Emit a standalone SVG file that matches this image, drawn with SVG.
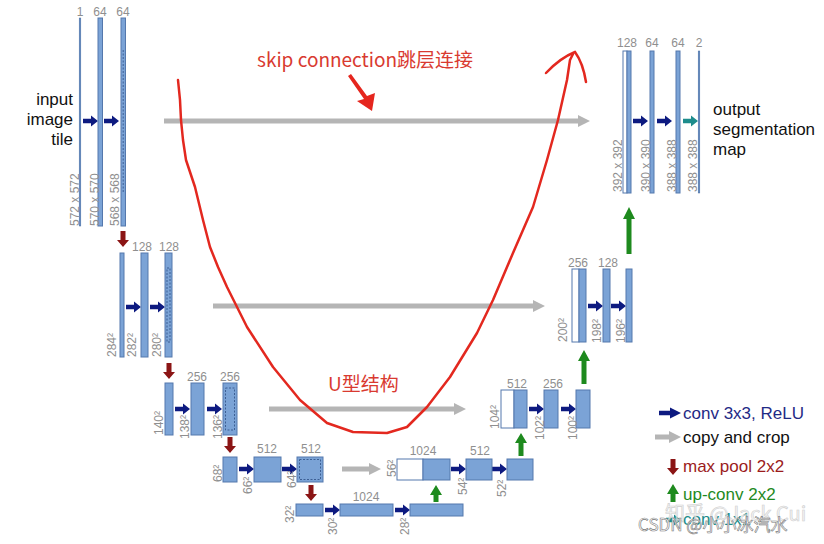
<svg xmlns="http://www.w3.org/2000/svg" xmlns:xlink="http://www.w3.org/1999/xlink" width="824" height="544" viewBox="0 0 824 544">
<style>
.bx{fill:#7ba3d6;stroke:#5478ad;stroke-width:1}
.ln{fill:#5d85bd;stroke:#4a6fa5;stroke-width:0.5}
.wb{fill:#fff;stroke:#5478ad;stroke-width:1}
.dl{fill:none;stroke:#3d5f94;stroke-width:1;stroke-dasharray:2 1.5}
.lb{font-family:"Liberation Sans",Arial,sans-serif;font-size:12px;fill:#8f8f8f;text-anchor:middle}
.vl{font-family:"Liberation Sans",Arial,sans-serif;font-size:12px;fill:#8f8f8f}
.big{font-family:"Liberation Sans",Arial,sans-serif;font-size:17px;fill:#111}
.red{font-family:"Noto Sans CJK SC","Noto Sans",sans-serif;font-size:19px;fill:#d93a30}
.gray{fill:#b5b5b5}
.grn{fill:#1e8a1e}
</style>
<defs>
<path id="ra" d="M0,-2.2 H8 V-5.5 L15,0 L8,5.5 V2.2 H0 Z" fill="#0d1a80"/>
<path id="ta" d="M0,-2.2 H8 V-5.5 L15,0 L8,5.5 V2.2 H0 Z" fill="#1d8c8c"/>
<path id="da" d="M-2.5,0 V9 H-6 L0,16 L6,9 H2.5 V0 Z" fill="#8b1515"/>
</defs>
<rect width="824" height="544" fill="#fff"/>

<g id="connectors">
<path class="gray" d="M164,118.5 H578 V115 L590,121 L578,127 V123.5 H164 Z"/>
<path class="gray" d="M213,303.5 H533 V300 L545,306 L533,312 V308.5 H213 Z"/>
<path class="gray" d="M269,406.5 H454 V403 L466,409 L454,415 V411.5 H269 Z"/>
<path class="gray" d="M342,466.5 H369 V463 L381,469 L369,475 V471.5 H342 Z"/>
<use xlink:href="#ra" x="83" y="121"/><use xlink:href="#ra" x="104" y="121"/>
<use xlink:href="#ra" x="126" y="307"/><use xlink:href="#ra" x="150" y="307"/>
<use xlink:href="#ra" x="175" y="409"/><use xlink:href="#ra" x="207" y="409"/>
<use xlink:href="#ra" x="239" y="469"/><use xlink:href="#ra" x="282" y="469"/>
<use xlink:href="#ra" x="325" y="510"/><use xlink:href="#ra" x="395" y="510"/>
<use xlink:href="#ra" x="451" y="469"/><use xlink:href="#ra" x="492" y="469"/>
<use xlink:href="#ra" x="529" y="409"/><use xlink:href="#ra" x="561" y="409"/>
<use xlink:href="#ra" x="588" y="306"/><use xlink:href="#ra" x="611" y="306"/>
<use xlink:href="#ra" x="633" y="121"/><use xlink:href="#ra" x="657" y="121"/>
<use xlink:href="#ta" x="683" y="121"/>
<use xlink:href="#da" x="123" y="231"/>
<use xlink:href="#da" x="169" y="363"/>
<use xlink:href="#da" x="230" y="437"/>
<use xlink:href="#da" x="311" y="485"/>
<path class="grn" d="M433.5,502 V495 H430 L436,485 L442,495 H438.5 V502 Z"/>
<path class="grn" d="M518.5,456 V443 H515 L521,433 L527,443 H523.5 V456 Z"/>
<path class="grn" d="M581.5,384 V361 H578 L584,350 L590,361 H586.5 V384 Z"/>
<path class="grn" d="M626.5,254 V219 H623 L629,207 L635,219 H631.5 V254 Z"/>
</g>

<g id="input-label">
<text class="big" text-anchor="end" x="73" y="105">input</text>
<text class="big" text-anchor="end" x="73" y="125">image</text>
<text class="big" text-anchor="end" x="73" y="145">tile</text>
</g>

<g id="l1">
<rect class="ln" x="79.2" y="18" width="1.6" height="208"/>
<rect class="bx" x="98" y="18" width="4.5" height="208"/>
<rect class="bx" x="121" y="18" width="4.5" height="208"/>
<line class="dl" x1="123.2" y1="50" x2="123.2" y2="193"/>
<text class="lb" x="80" y="16">1</text><text class="lb" x="100" y="16">64</text><text class="lb" x="123" y="16">64</text>
<text class="vl" transform="translate(79,226) rotate(-90)">572 x 572</text>
<text class="vl" transform="translate(99,226) rotate(-90)">570 x 570</text>
<text class="vl" transform="translate(119,226) rotate(-90)">568 x 568</text>
</g>

<g id="l2">
<rect class="bx" x="120" y="253" width="4" height="104"/>
<rect class="bx" x="141" y="253" width="7" height="104"/>
<rect class="bx" x="165" y="253" width="7" height="104"/>
<rect class="dl" x="167" y="268" width="3" height="74"/>
<text class="lb" x="142" y="251">128</text><text class="lb" x="169" y="251">128</text>
<text class="vl" transform="translate(116,357) rotate(-90)">284²</text>
<text class="vl" transform="translate(136,357) rotate(-90)">282²</text>
<text class="vl" transform="translate(161,357) rotate(-90)">280²</text>
</g>

<g id="l3">
<rect class="bx" x="165" y="383" width="8" height="52"/>
<rect class="bx" x="191" y="383" width="13" height="52"/>
<rect class="bx" x="223" y="383" width="14" height="52"/>
<rect class="dl" x="225.5" y="388" width="9" height="42"/>
<text class="lb" x="197" y="381">256</text><text class="lb" x="230" y="381">256</text>
<text class="vl" transform="translate(163,435) rotate(-90)">140²</text>
<text class="vl" transform="translate(189,439) rotate(-90)">138²</text>
<text class="vl" transform="translate(222,439) rotate(-90)">136²</text>
</g>

<g id="l4">
<rect class="bx" x="223" y="457" width="14" height="25"/>
<rect class="bx" x="254" y="457" width="27" height="25"/>
<rect class="bx" x="297" y="457" width="26" height="25"/>
<rect class="dl" x="299.5" y="459.5" width="21" height="20"/>
<text class="lb" x="267" y="453">512</text><text class="lb" x="311" y="453">512</text>
<text class="vl" transform="translate(222,482) rotate(-90)">68²</text>
<text class="vl" transform="translate(252,494) rotate(-90)">66²</text>
<text class="vl" transform="translate(296,488) rotate(-90)">64²</text>
</g>

<g id="l5">
<rect class="bx" x="296" y="504" width="27" height="12"/>
<rect class="bx" x="340" y="504" width="53" height="12"/>
<rect class="bx" x="410" y="504" width="53" height="12"/>
<text class="lb" x="366" y="501">1024</text>
<text class="vl" transform="translate(294,523) rotate(-90)">32²</text>
<text class="vl" transform="translate(337,535) rotate(-90)">30²</text>
<text class="vl" transform="translate(409,535) rotate(-90)">28²</text>
</g>

<g id="u4">
<rect class="wb" x="397" y="459" width="26" height="21"/>
<rect class="bx" x="423" y="459" width="27" height="21"/>
<rect class="bx" x="466" y="459" width="26" height="21"/>
<rect class="bx" x="507" y="459" width="26" height="21"/>
<text class="lb" x="423" y="455">1024</text><text class="lb" x="480" y="455">512</text>
<text class="vl" transform="translate(396,477) rotate(-90)">56²</text>
<text class="vl" transform="translate(467,495) rotate(-90)">54²</text>
<text class="vl" transform="translate(506,497) rotate(-90)">52²</text>
</g>

<g id="u3">
<rect class="wb" x="501" y="390" width="13" height="38"/>
<rect class="bx" x="514" y="390" width="13" height="38"/>
<rect class="bx" x="544" y="390" width="14" height="38"/>
<rect class="bx" x="576" y="390" width="14" height="38"/>
<text class="lb" x="517" y="388">512</text><text class="lb" x="553" y="388">256</text>
<text class="vl" transform="translate(499,429) rotate(-90)">104²</text>
<text class="vl" transform="translate(544,440) rotate(-90)">102²</text>
<text class="vl" transform="translate(577,440) rotate(-90)">100²</text>
</g>

<g id="u2">
<rect class="wb" x="572" y="269" width="7" height="73"/>
<rect class="bx" x="579" y="269" width="7" height="73"/>
<rect class="bx" x="603" y="269" width="7" height="73"/>
<rect class="bx" x="626" y="269" width="6" height="73"/>
<text class="lb" x="578" y="267">256</text><text class="lb" x="608" y="267">128</text>
<text class="vl" transform="translate(567,342) rotate(-90)">200²</text>
<text class="vl" transform="translate(601,343) rotate(-90)">198²</text>
<text class="vl" transform="translate(625,343) rotate(-90)">196²</text>
</g>

<g id="u1">
<rect class="wb" x="623" y="51" width="4" height="142"/>
<rect class="bx" x="627" y="51" width="4" height="142"/>
<rect class="bx" x="650" y="51" width="4" height="142"/>
<rect class="bx" x="676" y="51" width="4" height="142"/>
<rect class="ln" x="698.2" y="51" width="1.6" height="142"/>
<text class="lb" x="627" y="47">128</text><text class="lb" x="652" y="47">64</text><text class="lb" x="678" y="47">64</text><text class="lb" x="699" y="47">2</text>
<text class="vl" transform="translate(622,192) rotate(-90)">392 x 392</text>
<text class="vl" transform="translate(650,192) rotate(-90)">390 x 390</text>
<text class="vl" transform="translate(676,192) rotate(-90)">388 x 388</text>
<text class="vl" transform="translate(697,192) rotate(-90)">388 x 388</text>
</g>

<g id="output-label">
<text class="big" x="713" y="115">output</text>
<text class="big" x="713" y="135">segmentation</text>
<text class="big" x="713" y="155">map</text>
</g>

<g id="legend">
<path d="M659,410.8 H670 V407.5 L681,413 L670,418.5 V415.2 H659 Z" fill="#0d1a80"/>
<text class="big" x="683" y="419" style="fill:#1f2a85">conv 3x3, ReLU</text>
<path class="gray" d="M655,434.5 H669 V431 L681,437 L669,443 V439.5 H655 Z"/>
<text class="big" x="683" y="443">copy and crop</text>
<use xlink:href="#da" x="673" y="459"/>
<text class="big" x="683" y="472" style="fill:#9b1c1c">max pool 2x2</text>
<path class="grn" d="M670.5,502 V494 H667 L673,484 L679,494 H675.5 V502 Z"/>
<text class="big" x="683" y="500" style="fill:#1e8a1e">up-conv 2x2</text>
<use xlink:href="#ta" x="666" y="520"/>
<text class="big" x="683" y="525" style="fill:#1d8c8c">conv 1x1</text>
</g>

<g id="annotations">
<text class="red" x="257" y="67">skip connection跳层连接</text>
<path d="M348,76 L351,74 L367,96 L375,93 L372,111 L357,101 L364,99 Z" fill="#e5261e"/>
<text class="red" x="328" y="391">U型结构</text>
<path d="M178,80 L180,100 L181,120 L183,140 L186,160 L195,187 L203,220 L210,247 L218,267 L227,287 L247,327 L273,367 L300,400 L327,423 L353,432 L387,433 L407,427 L427,407 L450,377 L477,333 L493,300 L513,253 L533,207 L547,160 L558,120 L567,80 L570,60 L573,54" fill="none" stroke="#e3281f" stroke-width="2.5" stroke-linejoin="round" stroke-linecap="round"/>
<path d="M546,73 Q560,58 575,52 Q583,63 586,82" fill="none" stroke="#e3281f" stroke-width="2.5" stroke-linecap="round"/>
</g>

<g id="watermark">
<text x="665" y="521" font-family="Noto Sans CJK SC,Noto Sans,sans-serif" font-size="20" fill="#f2f2f2" stroke="#c4c4c4" stroke-width="0.6" opacity="0.8">知乎 @Jack Cui</text>
<text x="638" y="531" font-family="Noto Sans CJK SC,Noto Sans,sans-serif" font-size="17" fill="#ffffff" stroke="#7a7a7a" stroke-width="0.6">CSDN @小小冰汽水</text>
</g>
</svg>
